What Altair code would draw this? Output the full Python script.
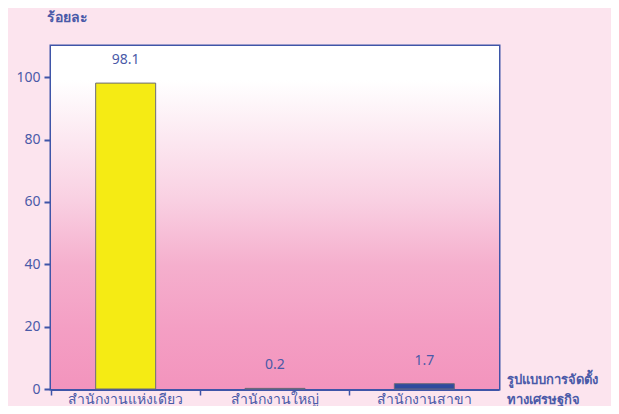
import altair as alt
import pandas as pd

categories = ["สำนักงานแห่งเดียว", "สำนักงานใหญ่", "สำนักงานสาขา"]
values = [98.1, 0.2, 1.7]
colors = ["#f5eb14", "#5a1f2a", "#2f4b9e"]
labels = ["98.1", "0.2", "1.7"]

df = pd.DataFrame({"cat": categories, "val": values, "color": colors, "lab": labels})

BLUE = "#3f55a8"
TXT = "#4a5aa8"
FONT = "Noto Sans"

x = alt.X("cat:N", sort=categories,
          scale=alt.Scale(paddingInner=0, paddingOuter=0),
          axis=alt.Axis(title=["รูปแบบการจัดตั้ง", "ทางเศรษฐกิจ"], titleAngle=0,
                        titleAlign="left", titleBaseline="middle",
                        titleX=455, titleY=-10, titleLineHeight=20,
                        titleFontWeight="bold", titleFontSize=13, titleColor=TXT,
                        titleFont=FONT,
                        labelAngle=0, labelFontSize=14, labelColor=TXT, labelFont=FONT,
                        labelPadding=-3, labelBaseline="top", bandPosition=0,
                        tickColor=BLUE, tickSize=6,
                        tickWidth=1.5, domainColor=BLUE, domainWidth=3, grid=False))

y = alt.Y("val:Q", scale=alt.Scale(domain=[0, 110], nice=False),
          axis=alt.Axis(values=[0, 20, 40, 60, 80, 100], title="ร้อยละ", titleAngle=0,
                        titleAlign="left", titleBaseline="middle",
                        titleX=-5, titleY=-29, titleFontWeight="bold",
                        titleFontSize=14, titleColor=TXT, titleFont=FONT,
                        labelFontSize=14, labelColor=TXT, labelFont=FONT, labelPadding=4,
                        tickColor=BLUE, tickSize=7, tickWidth=2, domainColor=BLUE,
                        domainWidth=3, grid=True, gridColor="#4a5ab0", gridDash=[7, 6],
                        gridWidth=1))

bg = alt.Chart(pd.DataFrame({"a": [0]})).mark_rect(
    fill=alt.Gradient(gradient="linear", x1=0, y1=0, x2=0, y2=1,
                      stops=[alt.GradientStop(offset=0, color="#ffffff"),
                             alt.GradientStop(offset=0.1, color="#ffffff"),
                             alt.GradientStop(offset=0.45, color="#f9d0e2"),
                             alt.GradientStop(offset=0.64, color="#f5afcd"),
                             alt.GradientStop(offset=0.82, color="#f49fc4"),
                             alt.GradientStop(offset=1, color="#f394bd")])
).encode(x=alt.value(0), x2=alt.value(448), y=alt.value(0), y2=alt.value(343))

bars = alt.Chart(df).mark_bar(stroke="#6b6b7a", strokeWidth=1, width=60).encode(
    x=x, y=y, color=alt.Color("color:N", scale=None))

text = alt.Chart(df).mark_text(dy=-23, fontSize=14, color=TXT, font=FONT,
                               baseline="middle").encode(
    x=alt.X("cat:N", sort=categories), y="val:Q", text="lab:N")

chart = alt.layer(bg, bars, text).properties(
    width=448, height=343, background="#fce4ee",
    padding={"left": 43, "top": 38, "right": 112, "bottom": 17},
    autosize=alt.AutoSizeParams(type="none"),
).configure_view(stroke=BLUE, strokeWidth=3)

chart.save("out.html", embed_options={"renderer": "svg", "actions": False})
